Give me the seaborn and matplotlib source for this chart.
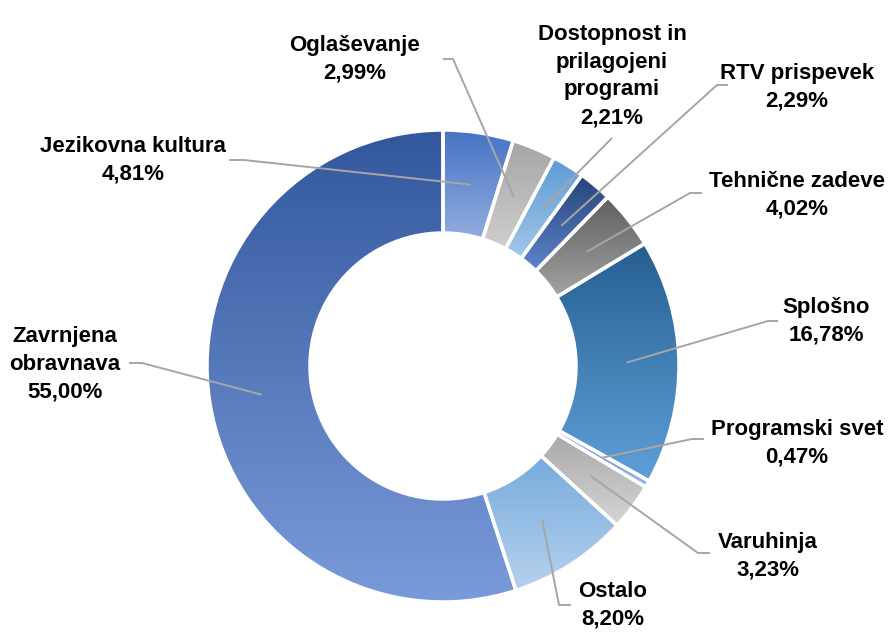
import numpy as np
import matplotlib
matplotlib.use("Agg")
import matplotlib.pyplot as plt
import seaborn as sns
from matplotlib.colors import LinearSegmentedColormap

sns.set_theme(style="white")
plt.rcParams['font.family'] = ['Liberation Sans', 'DejaVu Sans']

# slices, clockwise from 12 o'clock
categories = ["Jezikovna kultura", "Oglaševanje", "Dostopnost in\nprilagojeni\nprogrami",
              "RTV prispevek", "Tehnične zadeve", "Splošno", "Programski svet",
              "Varuhinja", "Ostalo", "Zavrnjena\nobravnava"]
shares = [4.81, 2.99, 2.21, 2.29, 4.02, 16.78, 0.47, 3.23, 8.20, 55.00]
top_colors = ["#4472C4", "#A5A5A5", "#5B9BD5", "#264478", "#5F5F5F",
              "#255E91", "#6A8FD2", "#A8A8A8", "#76ABDB", "#32579C"]
bottom_colors = ["#93ADDE", "#CFCFCF", "#A3C7E8", "#5E84CC", "#A3A3A3",
                 "#5FA0D8", "#9DB5E6", "#D6D6D6", "#B6D2EE", "#7A9BDA"]

# label layout (pixel coords, y from top)
label_xy = [(133, 160), (355, 59), (612, 76), (797, 87), (797, 195),
            (826, 321), (797, 443), (768, 556), (613, 605), (65, 364)]
elbow_start = [(229, 160), (443, 59), (612, 138), (728, 85), (702, 193),
               (778, 321), (704, 439), (710, 553), (571, 605), (129, 363)]
elbow_mid = [(244, 160), (453, 59), (612, 138), (717, 85), (690, 193),
             (768, 321), (692, 439), (698, 553), (559, 605), (142, 363)]

W, H = 891, 633
cx, cy = 443, H - 366
r_out, r_in = 236, 133

fig = plt.figure(figsize=(W / 100, H / 100), dpi=100)
ax = fig.add_axes([0, 0, 1, 1])

wedges, _ = ax.pie(shares, startangle=90, counterclock=False, center=(cx, cy),
                   radius=r_out, wedgeprops=dict(width=r_out - r_in, edgecolor='white',
                                                 linewidth=2.5, facecolor='none'),
                   frame=True)

# vertical gradient fill per slice, clipped to the wedge
grad = np.linspace(0, 1, 256).reshape(-1, 1)
for w, c_top, c_bot in zip(wedges, top_colors, bottom_colors):
    w.set_zorder(3)
    ext = w.get_path().get_extents()
    cmap = LinearSegmentedColormap.from_list('g', [c_bot, c_top])
    im = ax.imshow(grad, cmap=cmap, origin='lower', aspect='auto', zorder=2,
                   extent=(ext.x0, ext.x1, ext.y0, ext.y1), interpolation='bilinear')
    im.set_clip_path(w)

# leader lines and labels
r_mid = (r_out + r_in) / 2 - 1
for w, name, v, txy, p0, p1 in zip(wedges, categories, shares, label_xy, elbow_start, elbow_mid):
    ang = np.deg2rad((w.theta1 + w.theta2) / 2)
    ax_x = cx + r_mid * np.cos(ang)
    ax_y = cy + r_mid * np.sin(ang)
    ax.plot([p0[0], p1[0], ax_x], [H - p0[1], H - p1[1], ax_y],
            color='#A6A6A6', lw=1.4, zorder=4, solid_capstyle='butt')
    pct = f"{v:.2f}".replace('.', ',') + '%'
    ax.text(txy[0], H - txy[1], f"{name}\n{pct}", ha='center', va='center',
            fontsize=16, fontweight='bold', color='black', linespacing=1.42, zorder=5)

ax.set_xlim(0, W)
ax.set_ylim(0, H)
ax.set_aspect('equal')
ax.axis('off')
fig.savefig("out.png", dpi=100, facecolor='white')
